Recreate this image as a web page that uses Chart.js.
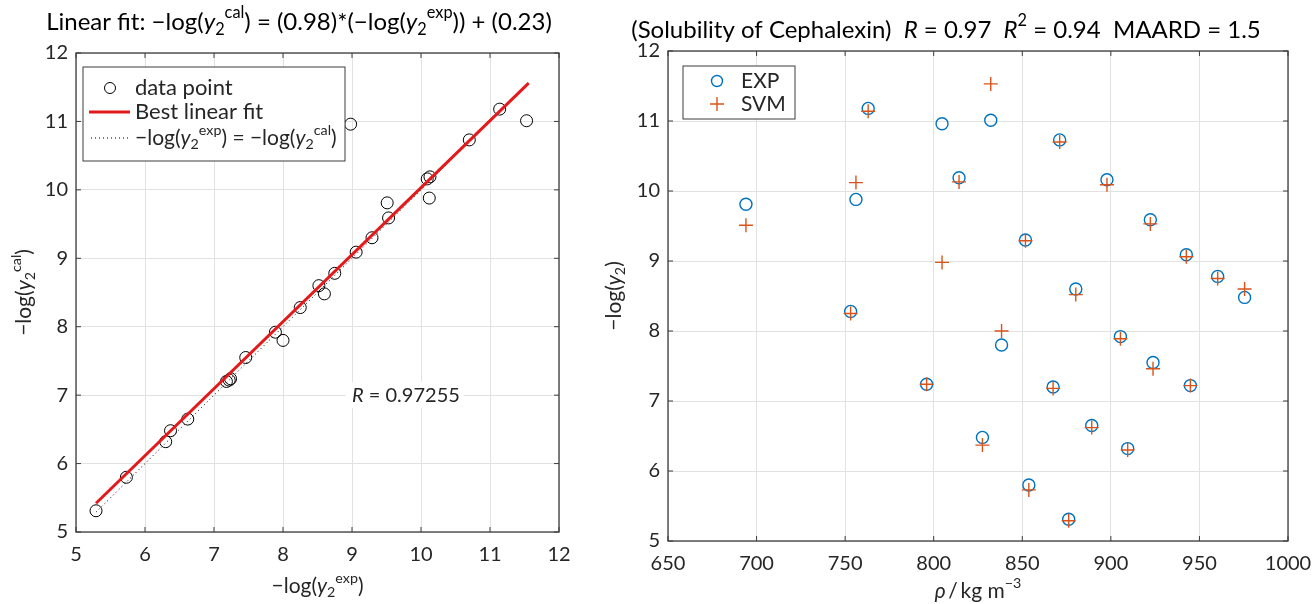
<!DOCTYPE html>
<html>
<head>
<meta charset="utf-8">
<script src="https://cdn.jsdelivr.net/npm/chart.js@4.4.0/dist/chart.umd.min.js"></script>
<style>
  body { margin: 0; background: #fff; }
  #wrapEsq { position: absolute; left: 0; top: 0; }
  #wrapDir { position: absolute; left: 580px; top: 0; }
</style>
</head>
<body>
<div id="wrapEsq"><canvas id="grafico1" width="580" height="604"></canvas></div>
<div id="wrapDir"><canvas id="grafico2" width="736" height="604"></canvas></div>
<script>
// densidade (kg/m3) de cada ponto
const rho = [694.0, 756.1, 763.0, 804.7, 832.2, 814.3, 871.1, 897.8, 922.3, 851.8, 942.6, 960.3, 975.5,
  880.2, 753.1, 838.3, 905.4, 923.8, 796.0, 867.4, 944.9, 889.2, 827.5, 909.5, 853.7, 876.2];
// -log(y2) experimental
const expVals = [9.81, 9.88, 11.18, 10.96, 11.01, 10.19, 10.73, 10.16, 9.59, 9.30, 9.09, 8.78, 8.48,
  8.60, 8.28, 7.80, 7.92, 7.55, 7.24, 7.20, 7.22, 6.65, 6.48, 6.32, 5.80, 5.31];
// -log(y2) calculado pelo SVM
const svmVals = [9.51, 10.12, 11.14, 8.98, 11.53, 10.13, 10.70, 10.09, 9.53, 9.29, 9.06, 8.75, 8.60,
  8.52, 8.25, 8.00, 7.89, 7.46, 7.24, 7.18, 7.22, 6.62, 6.37, 6.30, 5.73, 5.29];
// extremos da reta ajustada e da reta y = x
const fitX = [5.29, 11.56];
const fitY = [5.42, 11.56];
const idX = [5.29, 11.56];
const idY = [5.29, 11.56];

const ticksRhoMin = 650, ticksRhoMax = 1000;

const FONTE = "Lato, 'Open Sans', sans-serif";
const COR_TXT = "#262626";

function fonteSeg(s, size) {
  var sz = (s.sub || s.sup) ? size * 0.68 : size;
  return (s.it ? "italic " : "") + sz + "px " + FONTE;
}

function larguraRich(ctx, segs, size) {
  var w = 0;
  segs.forEach(function (s) {
    ctx.font = fonteSeg(s, size);
    w += ctx.measureText(s.t).width;
  });
  return w;
}

function drawRich(ctx, segs, x, y, size, align) {
  var w = larguraRich(ctx, segs, size);
  var cx = x;
  if (align == "center") cx = x - w / 2;
  if (align == "right") cx = x - w;
  ctx.textBaseline = "middle";
  ctx.textAlign = "left";
  segs.forEach(function (s) {
    ctx.font = fonteSeg(s, size);
    var dy = 0;
    if (s.sub) dy = size * 0.32;
    if (s.sup) dy = -size * 0.38;
    ctx.fillText(s.t, cx, y + dy);
    cx += ctx.measureText(s.t).width;
  });
  return w;
}

function caixaETicks(chart) {
  var ctx = chart.ctx;
  var a = chart.chartArea;
  var xs = chart.scales.x, ys = chart.scales.y;
  ctx.save();
  ctx.strokeStyle = "#3c3c3c";
  ctx.lineWidth = 1.3;
  ctx.strokeRect(a.left, a.top, a.right - a.left, a.bottom - a.top);
  ctx.lineWidth = 1;
  ctx.beginPath();
  xs.ticks.forEach(function (t) {
    var px = xs.getPixelForValue(t.value);
    ctx.moveTo(px, a.bottom); ctx.lineTo(px, a.bottom - 5);
    ctx.moveTo(px, a.top); ctx.lineTo(px, a.top + 5);
  });
  ys.ticks.forEach(function (t) {
    var py = ys.getPixelForValue(t.value);
    ctx.moveTo(a.left, py); ctx.lineTo(a.left + 5, py);
    ctx.moveTo(a.right, py); ctx.lineTo(a.right - 5, py);
  });
  ctx.stroke();
  ctx.restore();
}

function escala(min, max, step, larg, alt, isX) {
  return {
    type: "linear",
    min: min,
    max: max,
    ticks: {
      stepSize: step,
      color: COR_TXT,
      font: { family: FONTE, size: 20 },
      padding: isX ? 11 : 8,
      maxRotation: 0,
      callback: function (v) { return String(v); },
    },
    grid: { color: "#e2e2e2", lineWidth: 1, drawTicks: false },
    border: { display: false },
    afterFit: function (s) {
      // area do grafico fixa, sem folga extra para os rotulos das pontas
      if (isX) {
        s.height = alt;
        s.paddingLeft = 0;
        s.paddingRight = 0;
      } else {
        s.width = larg;
        s.paddingTop = 0;
        s.paddingBottom = 0;
      }
    },
  };
}

// ---------- grafico da esquerda ----------
var pontosEsq = [];
for (var i = 0; i < expVals.length; i++) pontosEsq.push({ x: svmVals[i], y: expVals[i] });
var linhaFit = fitX.map(function (v, k) { return { x: v, y: fitY[k] }; });
var linhaId = idX.map(function (v, k) { return { x: v, y: idY[k] }; });

const pluginEsq = {
  id: "textosEsq",
  beforeDatasetsDraw(chart) { caixaETicks(chart); },
  afterDraw(chart) {
    var ctx = chart.ctx;
    var a = chart.chartArea;
    var xs = chart.scales.x, ys = chart.scales.y;
    ctx.save();
    ctx.fillStyle = "#000";
    // titulo
    drawRich(ctx, [
      { t: "Linear fit: \u2212log(" }, { t: "y", it: true }, { t: "2", sub: true }, { t: "cal", sup: true },
      { t: ") = (0.98)*(\u2212log(" }, { t: "y", it: true }, { t: "2", sub: true }, { t: "exp", sup: true },
      { t: ")) + (0.23)" }
    ], 299, 22, 24, "center");
    // rotulo x
    ctx.fillStyle = COR_TXT;
    drawRich(ctx, [{ t: "\u2212log(" }, { t: "y", it: true }, { t: "2", sub: true }, { t: "exp", sup: true }, { t: ")" }],
      (a.left + a.right) / 2, 586, 21, "center");
    // rotulo y
    ctx.save();
    ctx.translate(24, (a.top + a.bottom) / 2);
    ctx.rotate(-Math.PI / 2);
    drawRich(ctx, [{ t: "\u2212log(" }, { t: "y", it: true }, { t: "2", sub: true }, { t: "cal", sup: true }, { t: ")" }],
      0, 0, 21, "center");
    ctx.restore();

    // texto R
    var segR = [{ t: "R", it: true }, { t: " = 0.97255" }];
    var rx = xs.getPixelForValue(9.0), ry = ys.getPixelForValue(7.0);
    var wr = larguraRich(ctx, segR, 20);
    ctx.fillStyle = "#fff";
    ctx.fillRect(rx - 6, ry - 13, wr + 10, 26);
    ctx.fillStyle = COR_TXT;
    drawRich(ctx, segR, rx, ry, 20, "left");

    // legenda
    var lx = a.left + 7, ly = a.top + 14;
    ctx.fillStyle = "#fff";
    ctx.fillRect(lx, ly, 262, 94);
    ctx.strokeStyle = "#3c3c3c";
    ctx.lineWidth = 1;
    ctx.strokeRect(lx, ly, 262, 94);
    ctx.strokeStyle = "#000";
    ctx.beginPath();
    ctx.arc(lx + 27, ly + 21, 5.5, 0, Math.PI * 2);
    ctx.stroke();
    ctx.strokeStyle = "#e31a1c";
    ctx.lineWidth = 3;
    ctx.beginPath();
    ctx.moveTo(lx + 6, ly + 45); ctx.lineTo(lx + 47, ly + 45);
    ctx.stroke();
    ctx.strokeStyle = "#000";
    ctx.lineWidth = 1;
    ctx.setLineDash([1, 3]);
    ctx.beginPath();
    ctx.moveTo(lx + 8, ly + 71); ctx.lineTo(lx + 46, ly + 71);
    ctx.stroke();
    ctx.setLineDash([]);
    ctx.fillStyle = COR_TXT;
    drawRich(ctx, [{ t: "data point" }], lx + 52, ly + 21, 22, "left");
    drawRich(ctx, [{ t: "Best linear fit" }], lx + 52, ly + 45, 22, "left");
    drawRich(ctx, [
      { t: "\u2212log(" }, { t: "y", it: true }, { t: "2", sub: true }, { t: "exp", sup: true },
      { t: ") = \u2212log(" }, { t: "y", it: true }, { t: "2", sub: true }, { t: "cal", sup: true }, { t: ")" }
    ], lx + 52, ly + 71, 21, "left");
    ctx.restore();
  },
};

new Chart(document.getElementById("grafico1"), {
  type: "scatter",
  data: {
    datasets: [
      {
        label: "Best linear fit",
        data: linhaFit,
        showLine: true,
        borderColor: "#e31a1c",
        borderWidth: 3,
        pointRadius: 0,
        order: 1,
      },
      {
        label: "identidade",
        data: linhaId,
        showLine: true,
        borderColor: "#000",
        borderWidth: 1,
        borderDash: [1, 3],
        pointRadius: 0,
        order: 2,
      },
      {
        label: "data point",
        data: pontosEsq,
        pointStyle: "circle",
        pointRadius: 6,
        pointBorderWidth: 1,
        borderColor: "#000",
        backgroundColor: "rgba(0,0,0,0)",
        order: 3,
      },
    ],
  },
  options: {
    responsive: false,
    maintainAspectRatio: false,
    animation: false,
    layout: { padding: { left: 0, right: 21, top: 53, bottom: 0 } },
    plugins: { legend: { display: false }, tooltip: { enabled: false } },
    scales: {
      x: escala(5, 12, 1, 0, 72, true),
      y: escala(5, 12, 1, 76, 0, false),
    },
  },
  plugins: [pluginEsq],
});

// ---------- grafico da direita ----------
var pontosExp = [], pontosSvm = [];
for (var j = 0; j < rho.length; j++) {
  pontosExp.push({ x: rho[j], y: expVals[j] });
  pontosSvm.push({ x: rho[j], y: svmVals[j] });
}

const pluginDir = {
  id: "textosDir",
  beforeDatasetsDraw(chart) { caixaETicks(chart); },
  afterDraw(chart) {
    var ctx = chart.ctx;
    var a = chart.chartArea;
    ctx.save();
    ctx.fillStyle = "#000";
    drawRich(ctx, [
      { t: "(Solubility of Cephalexin)  " }, { t: "R", it: true }, { t: " = 0.97  " },
      { t: "R", it: true }, { t: "2", sup: true }, { t: " = 0.94  MAARD = 1.5" }
    ], 366, 30, 24, "center");
    ctx.fillStyle = COR_TXT;
    drawRich(ctx, [{ t: "\u03c1", it: true }, { t: "\u2009/\u2009kg m" }, { t: "\u22123", sup: true }],
      (a.left + a.right) / 2, 591, 21, "center");
    ctx.save();
    ctx.translate(34, (a.top + a.bottom) / 2);
    ctx.rotate(-Math.PI / 2);
    drawRich(ctx, [{ t: "\u2212log(" }, { t: "y", it: true }, { t: "2", sub: true }, { t: ")" }], 0, 0, 21, "center");
    ctx.restore();

    // legenda
    var lx = a.left + 15, ly = a.top + 15;
    ctx.fillStyle = "#fff";
    ctx.fillRect(lx, ly, 112, 53);
    ctx.strokeStyle = "#3c3c3c";
    ctx.lineWidth = 1;
    ctx.strokeRect(lx, ly, 112, 53);
    ctx.strokeStyle = "#0072BD";
    ctx.lineWidth = 1.4;
    ctx.beginPath();
    ctx.arc(lx + 34, ly + 15, 5.5, 0, Math.PI * 2);
    ctx.stroke();
    ctx.strokeStyle = "#D95319";
    ctx.beginPath();
    ctx.moveTo(lx + 27, ly + 38); ctx.lineTo(lx + 41, ly + 38);
    ctx.moveTo(lx + 34, ly + 31); ctx.lineTo(lx + 34, ly + 45);
    ctx.stroke();
    ctx.fillStyle = COR_TXT;
    drawRich(ctx, [{ t: "EXP" }], lx + 58, ly + 15, 21, "left");
    drawRich(ctx, [{ t: "SVM" }], lx + 58, ly + 38, 21, "left");
    ctx.restore();
  },
};

new Chart(document.getElementById("grafico2"), {
  type: "scatter",
  data: {
    datasets: [
      {
        label: "SVM",
        data: pontosSvm,
        pointStyle: "cross",
        pointRadius: 7,
        pointBorderWidth: 1.4,
        borderColor: "#D95319",
        backgroundColor: "#D95319",
        order: 1,
      },
      {
        label: "EXP",
        data: pontosExp,
        pointStyle: "circle",
        pointRadius: 6,
        pointBorderWidth: 1.4,
        borderColor: "#0072BD",
        backgroundColor: "rgba(0,0,0,0)",
        order: 2,
      },
    ],
  },
  options: {
    responsive: false,
    maintainAspectRatio: false,
    animation: false,
    layout: { padding: { left: 0, right: 28, top: 51, bottom: 0 } },
    plugins: { legend: { display: false }, tooltip: { enabled: false } },
    scales: {
      x: escala(ticksRhoMin, ticksRhoMax, 50, 0, 63, true),
      y: escala(5, 12, 1, 88, 0, false),
    },
  },
  plugins: [pluginDir],
});
</script>
</body>
</html>
